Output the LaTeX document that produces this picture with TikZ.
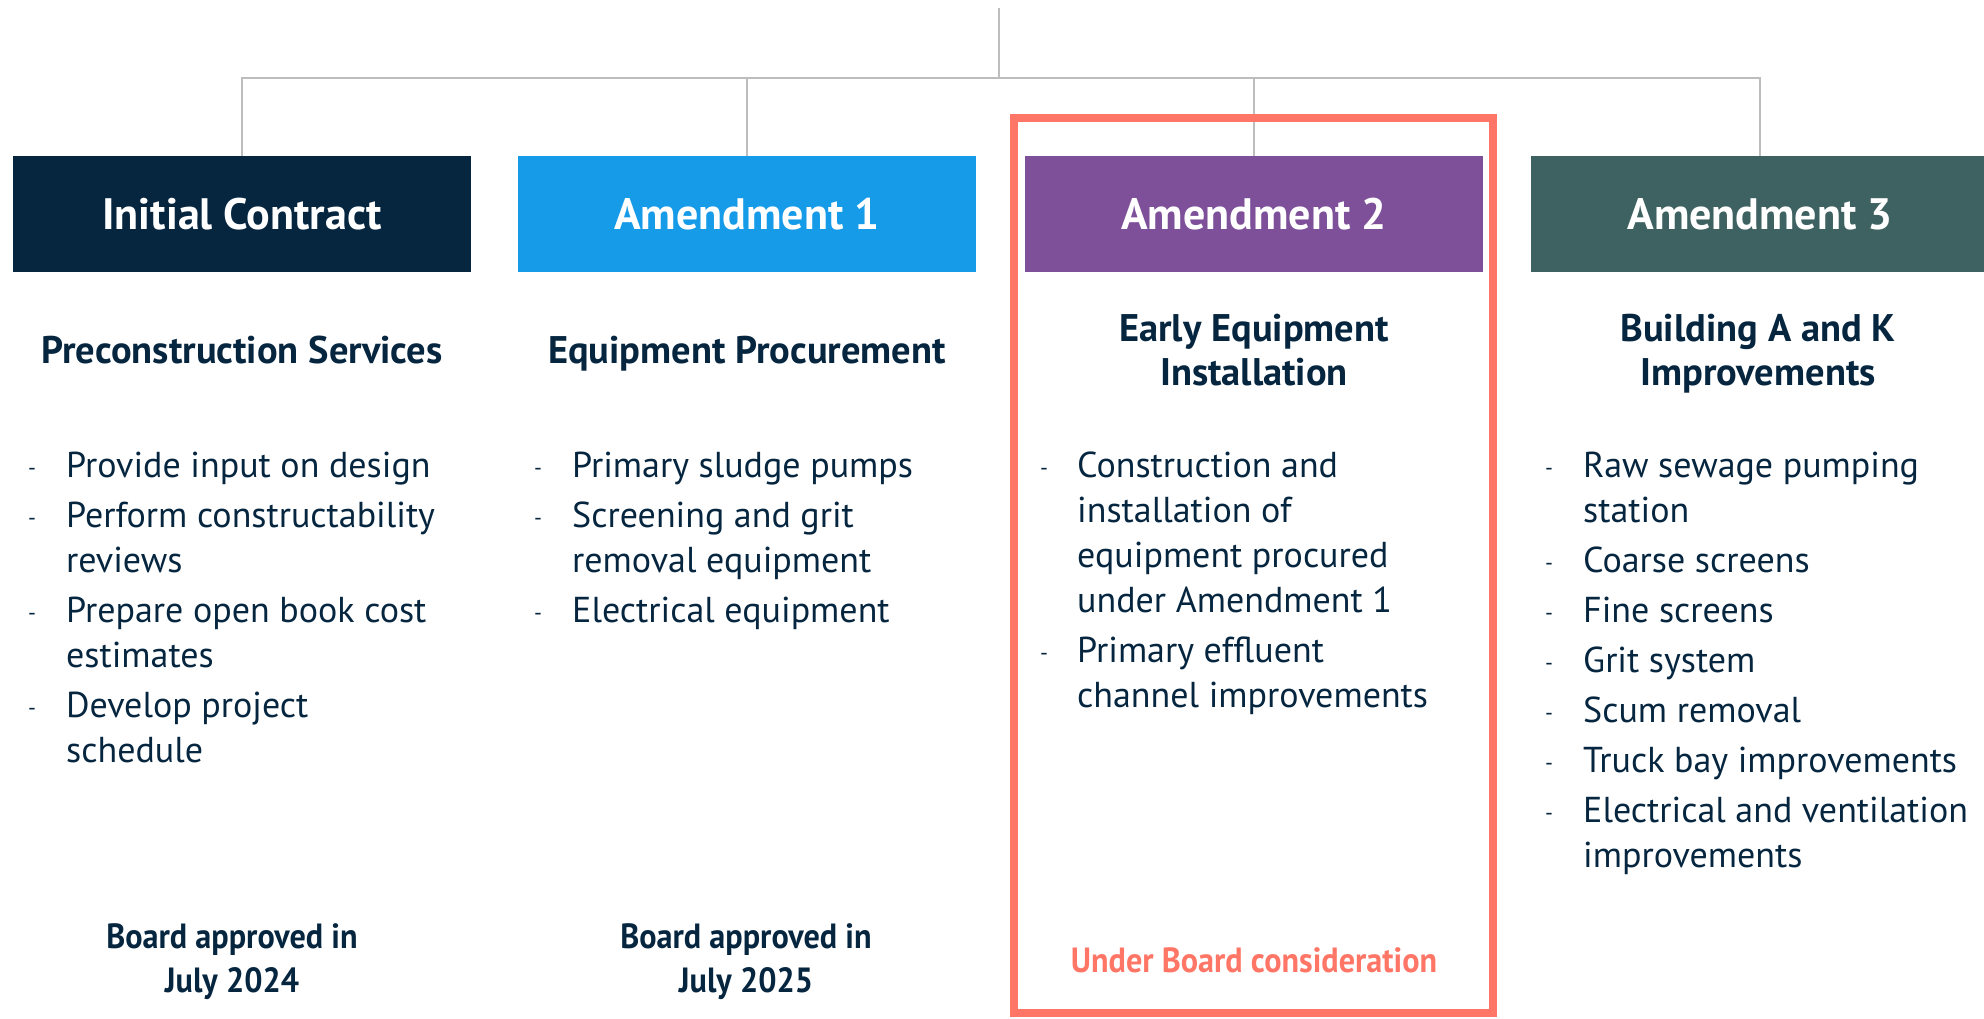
\documentclass[tikz,border=0pt]{standalone}
\usepackage{fontspec}
\setmainfont{PT Sans}
\newfontfamily\condfont[FakeStretch=0.92]{PT Sans}
\definecolor{ink}{HTML}{062640}
\definecolor{cNavy}{HTML}{062640}
\definecolor{cBlue}{HTML}{169BE8}
\definecolor{cPurple}{HTML}{7D5099}
\definecolor{cTeal}{HTML}{3E6261}
\definecolor{cSalmon}{HTML}{FF7566}
\definecolor{cLine}{HTML}{BDBDBD}
\begin{document}
\begin{tikzpicture}[x=1pt,y=-1pt,
  hdr/.style={rectangle, minimum width=458pt, minimum height=116pt, inner sep=0pt, text=white, font=\bfseries\fontsize{44}{50}\selectfont},
  sub/.style={align=center, anchor=base, text=ink, inner sep=0pt, font=\bfseries\fontsize{38.5}{44}\selectfont},
  itm/.style={align=left, anchor=base west, text=ink, inner sep=0pt, font=\fontsize{36}{45}\selectfont},
  dsh/.style={anchor=base, text=ink, inner sep=0pt, font=\fontsize{22}{22}\selectfont},
  note/.style={align=center, anchor=base, inner sep=0pt, font=\condfont\bfseries\fontsize{35}{44}\selectfont},
  conn/.style={draw=cLine, line width=1.8pt}]
\useasboundingbox (0,0) rectangle (1984,1018);

% headers
\node[hdr, fill=cNavy]   (b1) at (242,214)  {Initial Contract};
\node[hdr, fill=cBlue]   (b2) at (747,214)  {Amendment 1};
\node[hdr, fill=cPurple] (b3) at (1254,214) {Amendment 2};
\node[hdr, fill=cTeal]   (b4) at (1760,214) {Amendment 3};

% connectors
\coordinate (top) at (999,8);
\coordinate (hub) at (999,78);
\draw[conn] (top) -- (hub);
\draw[conn] (b1.north) -- (b1.north |- hub) -- (b4.north |- hub) -- (b4.north);
\draw[conn] (b2.north) -- (b2.north |- hub);
\draw[conn] (b3.north) -- (b3.north |- hub);

% subtitles (anchor = baseline of last line)
\node[sub] (s1) at (242,363)  {Preconstruction Services};
\node[sub] (s2) at (747,363)  {Equipment Procurement};
\node[sub] (s3) at (1254,385) {Early Equipment\\Installation};
\node[sub] (s4) at (1758,385) {Building A and K\\Improvements};

% column 1
\node[dsh] (d11) at (32,475) {-};
\node[itm] (i11) at (66,477) {Provide input on design};
\node[dsh] (d12) at (32,525) {-};
\node[itm] (i12) at (66,572) {Perform constructability\\reviews};
\node[dsh] (d13) at (32,620) {-};
\node[itm] (i13) at (66,667) {Prepare open book cost\\estimates};
\node[dsh] (d14) at (32,715) {-};
\node[itm] (i14) at (66,762) {Develop project\\schedule};

% column 2
\node[dsh] (d21) at (538,475) {-};
\node[itm] (i21) at (572,477) {Primary sludge pumps};
\node[dsh] (d22) at (538,525) {-};
\node[itm] (i22) at (572,572) {Screening and grit\\removal equipment};
\node[dsh] (d23) at (538,620) {-};
\node[itm] (i23) at (572,622) {Electrical equipment};

% column 3
\node[dsh] (d31) at (1044,475) {-};
\node[itm] (i31) at (1077,612) {Construction and\\installation of\\equipment procured\\under Amendment 1};
\node[dsh] (d32) at (1044,660) {-};
\node[itm] (i32) at (1077,707) {Primary effluent\\channel improvements};

% column 4
\node[dsh] (d41) at (1549,475) {-};
\node[itm] (i41) at (1583,522) {Raw sewage pumping\\station};
\node[dsh] (d42) at (1549,570) {-};
\node[itm] (i42) at (1583,572) {Coarse screens};
\node[dsh] (d43) at (1549,620) {-};
\node[itm] (i43) at (1583,622) {Fine screens};
\node[dsh] (d44) at (1549,670) {-};
\node[itm] (i44) at (1583,672) {Grit system};
\node[dsh] (d45) at (1549,720) {-};
\node[itm] (i45) at (1583,722) {Scum removal};
\node[dsh] (d46) at (1549,770) {-};
\node[itm] (i46) at (1583,772) {Truck bay improvements};
\node[dsh] (d47) at (1549,820) {-};
\node[itm] (i47) at (1583,867) {Electrical and ventilation\\improvements};

% status notes
\node[note, text=ink] (n1) at (232,992) {Board approved in\\July 2024};
\node[note, text=ink] (n2) at (746,992) {Board approved in\\July 2025};
\node[note, text=cSalmon] (n3) at (1254,972) {Under Board consideration};

% highlight frame
\draw[cSalmon, line width=7.5pt] (1014,118) rectangle (1493,1013);
\end{tikzpicture}
\end{document}
